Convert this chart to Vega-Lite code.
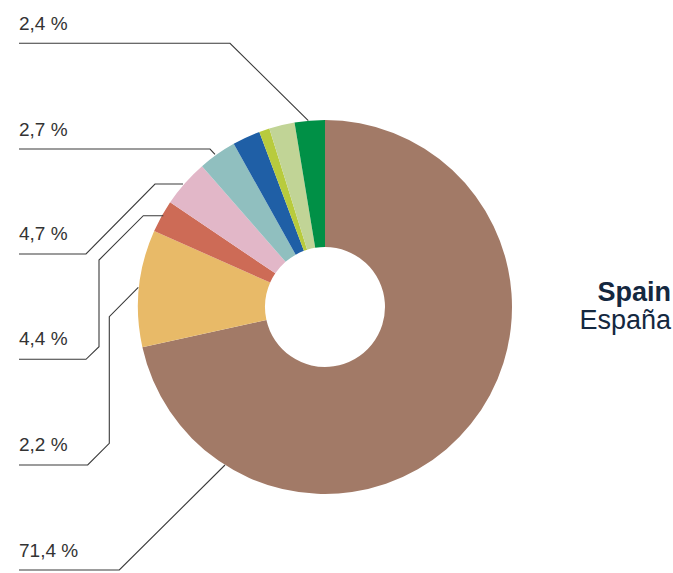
{
  "$schema": "https://vega.github.io/schema/vega-lite/v6.json",
  "width": 673,
  "height": 573,
  "padding": 0,
  "autosize": {"type": "none"},
  "background": "white",
  "config": {"view": {"stroke": null}},
  "layer": [
    {
      "data": {"values": [
        {"slice": "c1", "order": 1, "share": 71.4},
        {"slice": "c2", "order": 2, "share": 10.1},
        {"slice": "c3", "order": 3, "share": 2.8},
        {"slice": "c4", "order": 4, "share": 4.1},
        {"slice": "c5", "order": 5, "share": 3.3},
        {"slice": "c6", "order": 6, "share": 2.4},
        {"slice": "c7", "order": 7, "share": 0.9},
        {"slice": "c8", "order": 8, "share": 2.2},
        {"slice": "c9", "order": 9, "share": 2.6}
      ]},
      "mark": {"type": "arc", "outerRadius": 187, "innerRadius": 60, "x": 325, "y": 307},
      "encoding": {
        "theta": {"field": "share", "type": "quantitative", "stack": true},
        "order": {"field": "order", "type": "quantitative"},
        "color": {
          "field": "slice", "type": "nominal", "legend": null,
          "scale": {
            "domain": ["c1", "c2", "c3", "c4", "c5", "c6", "c7", "c8", "c9"],
            "range": ["#A27A67", "#E8BA68", "#CD6B56", "#E2B7C8", "#90BFBF", "#1F5FA6", "#B8CB3D", "#C1D496", "#009046"]
          }
        }
      }
    },
    {
      "data": {"values": [
        {"id": 1, "seq": 1, "px": 19, "py": 43.3},
        {"id": 1, "seq": 2, "px": 230, "py": 43.3},
        {"id": 1, "seq": 3, "px": 308.3, "py": 120.7},
        {"id": 2, "seq": 1, "px": 19, "py": 149},
        {"id": 2, "seq": 2, "px": 210, "py": 149},
        {"id": 2, "seq": 3, "px": 215, "py": 154.3},
        {"id": 3, "seq": 1, "px": 19, "py": 254},
        {"id": 3, "seq": 2, "px": 86, "py": 254},
        {"id": 3, "seq": 3, "px": 155, "py": 184},
        {"id": 3, "seq": 4, "px": 183, "py": 184},
        {"id": 4, "seq": 1, "px": 19, "py": 359.3},
        {"id": 4, "seq": 2, "px": 86, "py": 359.3},
        {"id": 4, "seq": 3, "px": 99, "py": 346.7},
        {"id": 4, "seq": 4, "px": 99, "py": 260},
        {"id": 4, "seq": 5, "px": 143.3, "py": 215.7},
        {"id": 4, "seq": 6, "px": 163.3, "py": 215.7},
        {"id": 5, "seq": 1, "px": 19, "py": 465},
        {"id": 5, "seq": 2, "px": 87.7, "py": 465},
        {"id": 5, "seq": 3, "px": 109.3, "py": 443.3},
        {"id": 5, "seq": 4, "px": 109.3, "py": 316.7},
        {"id": 5, "seq": 5, "px": 138.3, "py": 287.3},
        {"id": 6, "seq": 1, "px": 19, "py": 570},
        {"id": 6, "seq": 2, "px": 119.3, "py": 570},
        {"id": 6, "seq": 3, "px": 225, "py": 465}
      ]},
      "mark": {"type": "line", "color": "#3a3a3a", "strokeWidth": 1.1, "interpolate": "linear"},
      "encoding": {
        "x": {"field": "px", "type": "quantitative", "axis": null, "scale": {"domain": [0, 673], "nice": false, "zero": false}},
        "y": {"field": "py", "type": "quantitative", "axis": null, "scale": {"domain": [0, 573], "nice": false, "zero": false, "reverse": true}},
        "detail": {"field": "id", "type": "nominal"},
        "order": {"field": "seq", "type": "quantitative"}
      }
    },
    {
      "data": {"values": [
        {"label": "2,4 %", "px": 19, "py": 30},
        {"label": "2,7 %", "px": 19, "py": 135.5},
        {"label": "4,7 %", "px": 19, "py": 240},
        {"label": "4,4 %", "px": 19, "py": 345},
        {"label": "2,2 %", "px": 19, "py": 450.5},
        {"label": "71,4 %", "px": 19, "py": 556.7}
      ]},
      "mark": {"type": "text", "align": "left", "baseline": "alphabetic", "font": "Liberation Sans", "fontSize": 19, "color": "#333333"},
      "encoding": {
        "x": {"field": "px", "type": "quantitative", "axis": null, "scale": {"domain": [0, 673], "nice": false, "zero": false}},
        "y": {"field": "py", "type": "quantitative", "axis": null, "scale": {"domain": [0, 573], "nice": false, "zero": false, "reverse": true}},
        "text": {"field": "label", "type": "nominal"}
      }
    },
    {
      "data": {"values": [{"name": "Spain"}]},
      "mark": {"type": "text", "x": 671, "y": 301, "align": "right", "baseline": "alphabetic", "font": "Liberation Sans", "fontSize": 27, "fontWeight": "bold", "color": "#14283F"},
      "encoding": {"text": {"field": "name", "type": "nominal"}}
    },
    {
      "data": {"values": [{"name": "España"}]},
      "mark": {"type": "text", "x": 671, "y": 329, "align": "right", "baseline": "alphabetic", "font": "Liberation Sans", "fontSize": 27, "color": "#14283F"},
      "encoding": {"text": {"field": "name", "type": "nominal"}}
    }
  ]
}
